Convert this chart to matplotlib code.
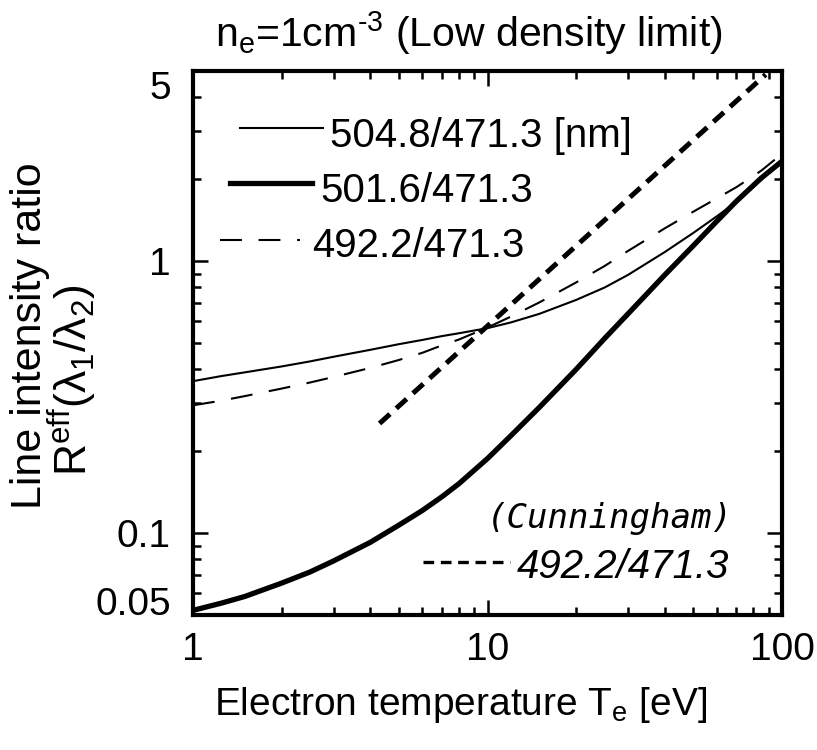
import matplotlib
matplotlib.use("Agg")
import matplotlib.pyplot as plt
from matplotlib.ticker import FixedLocator, LogLocator, NullFormatter, FixedFormatter
from matplotlib.lines import Line2D

plt.rcParams['font.family'] = ['Liberation Sans', 'DejaVu Sans']
plt.rcParams['mathtext.fontset'] = 'custom'
plt.rcParams['mathtext.rm'] = 'Liberation Sans'
plt.rcParams['mathtext.it'] = 'Liberation Sans:italic'

# ---- data ----
Te = [1, 1.25, 1.5, 2, 2.5, 3, 4, 5, 6, 7, 8, 10, 12, 15, 20, 25, 30, 40, 50, 60, 70, 85, 100]
r_5048 = [0.362, 0.378, 0.39, 0.41, 0.428, 0.445, 0.472, 0.495, 0.513, 0.53, 0.543, 0.567,
          0.595, 0.64, 0.72, 0.80, 0.89, 1.08, 1.27, 1.46, 1.65, 1.99, 2.32]
r_5016 = [0.052, 0.0553, 0.0585, 0.0655, 0.072, 0.079, 0.0925, 0.107, 0.121, 0.136, 0.152, 0.188,
          0.228, 0.29, 0.40, 0.52, 0.64, 0.89, 1.14, 1.40, 1.66, 2.02, 2.33]
r_4922 = [0.295, 0.307, 0.319, 0.34, 0.358, 0.375, 0.405, 0.433, 0.46, 0.49, 0.515, 0.57,
          0.625, 0.705, 0.835, 0.96, 1.09, 1.32, 1.52, 1.70, 1.87, 2.15, 2.48]
Te_cunn = [4.3, 88]
r_cunn = [0.253, 4.85]

xticks = [1, 10, 100]
xticklabels = ['1', '10', '100']
yticks = [0.05, 0.1, 1, 5]
yticklabels = ['0.05', '0.1', '1', '5']

W, H = 817, 750
fig = plt.figure(figsize=(W / 100, H / 100), dpi=100)
L, R, T, B = 193, 782, 71, 615
ax = fig.add_axes([L / W, 1 - B / H, (R - L) / W, (B - T) / H])

ax.plot(Te, r_5048, color='black', lw=1.5)
ax.plot(Te, r_5016, color='black', lw=3.8)
ax.plot(Te, r_4922, color='black', lw=1.5, dashes=(10.5, 8))
ax.plot(Te_cunn, r_cunn, color='black', lw=3.6, dashes=(2.8, 1.7), dash_capstyle='butt')

ax.set_xscale('log')
ax.set_yscale('log')
ax.set_xlim(1, 100)
ax.set_ylim(0.05, 5)

ax.xaxis.set_major_locator(FixedLocator(xticks))
ax.xaxis.set_major_formatter(FixedFormatter(xticklabels))
ax.xaxis.set_minor_locator(LogLocator(base=10, subs=range(2, 10)))
ax.xaxis.set_minor_formatter(NullFormatter())
ax.yaxis.set_major_locator(FixedLocator(yticks))
ax.yaxis.set_major_formatter(FixedFormatter(yticklabels))
ax.yaxis.set_minor_locator(LogLocator(base=10, subs=range(2, 10)))
ax.yaxis.set_minor_formatter(NullFormatter())

ax.tick_params(which='both', direction='in', top=True, right=True, width=1.8)
ax.tick_params(which='major', length=11, labelsize=28)
ax.tick_params(which='minor', length=5.5)
ax.tick_params(axis='x', which='major', pad=12)
ax.tick_params(axis='y', which='major', pad=16)
for s in ax.spines.values():
    s.set_linewidth(3)

fig.canvas.draw()
for lab in ax.get_yticklabels():
    if lab.get_text() == '5':
        lab.set_va('top')
    elif lab.get_text() == '0.05':
        lab.set_va('baseline')

# legend-like annotations
tr = ax.transAxes
ax.add_line(Line2D([0.0798, 0.2207], [0.8952, 0.8952], transform=tr, color='black', lw=1.5))
ax.text(0.2326, 0.8603, '504.8/471.3 [nm]', transform=tr, fontsize=29, ha='left', va='baseline')
ax.add_line(Line2D([0.0628, 0.2020], [0.7941, 0.7941], transform=tr, color='black', lw=3.8))
ax.text(0.2156, 0.7592, '501.6/471.3', transform=tr, fontsize=29, ha='left', va='baseline')
ax.add_line(Line2D([0.0458, 0.1817], [0.6893, 0.6893], transform=tr, color='black', lw=1.5, dashes=(10.5, 8)))
ax.text(0.2020, 0.6581, '492.2/471.3', transform=tr, fontsize=29, ha='left', va='baseline')

ax.text(0.4992, 0.1599, '(Cunningham)', transform=tr, fontsize=24.5, ha='left', va='baseline',
        family='DejaVu Sans Mono', style='italic')
ax.add_line(Line2D([0.3905, 0.5382], [0.0974, 0.0974], transform=tr, color='black', lw=2.4,
                   dashes=(3.2, 2.0), dash_capstyle='butt'))
ax.text(0.5501, 0.0680, '492.2/471.3', transform=tr, fontsize=29, ha='left', va='baseline', style='italic')

# titles / labels
fig.text(469 / W, 1 - 47 / H, r'n$_{\rm e}$=1cm$^{\text{-3}}$ (Low density limit)', fontsize=29.5,
         ha='center', va='baseline')
fig.text(461 / W, 1 - 715 / H, r'Electron temperature T$_{\rm e}$ [eV]', fontsize=28,
         ha='center', va='baseline')
fig.text(30 / W, 1 - 336 / H, 'Line intensity ratio', fontsize=31, rotation=90,
         ha='center', va='center')
fig.text(72 / W, 1 - 380 / H, r'R$^{\rm eff}$(λ$_1$/λ$_2$)', fontsize=32, rotation=90,
         ha='center', va='center')

fig.savefig('out.png', dpi=100)
